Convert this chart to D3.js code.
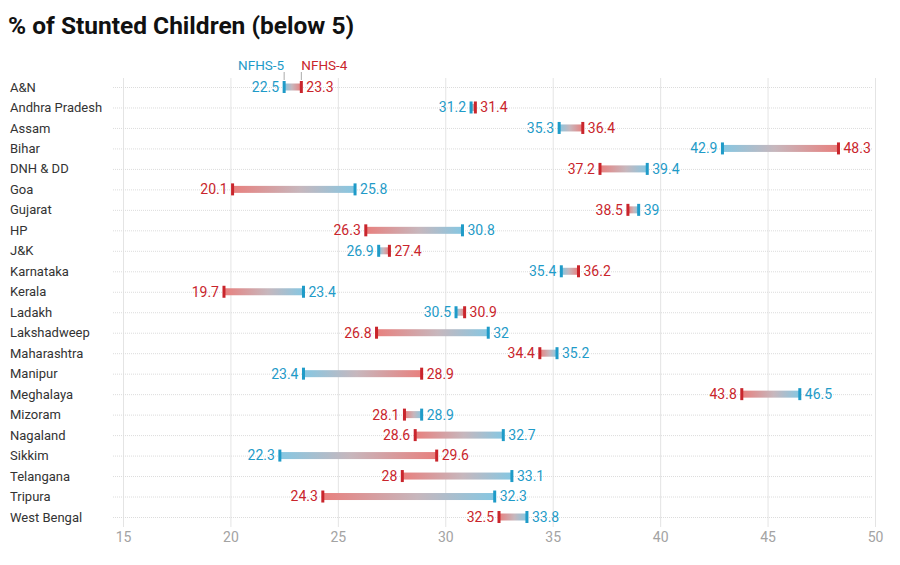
<!DOCTYPE html>
<html>
<head>
<meta charset="utf-8">
<script src="https://cdn.jsdelivr.net/npm/d3@7"></script>
<style>
  body { margin: 0; background: #fff; font-family: Roboto, "Noto Sans", sans-serif; }
</style>
</head>
<body>
<div id="chart"></div>
<script>
(function () {
  'use strict';

  var states = ['A&N', 'Andhra Pradesh', 'Assam', 'Bihar', 'DNH & DD', 'Goa', 'Gujarat', 'HP',
    'J&K', 'Karnataka', 'Kerala', 'Ladakh', 'Lakshadweep', 'Maharashtra', 'Manipur', 'Meghalaya',
    'Mizoram', 'Nagaland', 'Sikkim', 'Telangana', 'Tripura', 'West Bengal'];
  var nfhs4 = [23.3, 31.4, 36.4, 48.3, 37.2, 20.1, 38.5, 26.3, 27.4, 36.2, 19.7, 30.9, 26.8, 34.4,
    28.9, 43.8, 28.1, 28.6, 29.6, 28, 24.3, 32.5];
  var nfhs5 = [22.5, 31.2, 35.3, 42.9, 39.4, 25.8, 39, 30.8, 26.9, 35.4, 23.4, 30.5, 32, 35.2,
    23.4, 46.5, 28.9, 32.7, 22.3, 33.1, 32.3, 33.8];
  var xTicks = [15, 20, 25, 30, 35, 40, 45, 50];

  var w = 900,
      h = 565,
      red = '#c9252c',
      blue = '#1f9bc8',
      redLight = '#e8807e',
      blueLight = '#86c7e2';

  var rows = states.map(function (s, i) { return {state: s, a: nfhs4[i], b: nfhs5[i], i: i}; });

  var svg = d3.select('#chart').append('svg')
    .attr('width', w).attr('height', h);

  svg.append('text')
    .attr('x', 8).attr('y', 34)
    .style('font-size', '24.5px').style('font-weight', 700).style('fill', '#111')
    .text('% of Stunted Children (below 5)');

  var x = d3.scaleLinear().domain([15, 50]).range([123, 875]);
  var y = d3.scalePoint().domain(states).range([87, 517]);

  // vertical grid + tick labels
  var axis = svg.append('g')
    .attr('transform', 'translate(0,527)')
    .call(d3.axisBottom(x).tickValues(xTicks).tickSize(-449).tickPadding(5));
  axis.select('.domain').remove();
  axis.selectAll('line').attr('stroke', '#e4e4e4');
  axis.selectAll('text').attr('fill', '#a3a3a3').style('font-size', '14px')
    .style('font-family', 'Roboto, sans-serif');

  // dotted row lines
  svg.append('g').selectAll('line').data(rows).enter().append('line')
    .attr('x1', 113).attr('x2', 872)
    .attr('y1', function (d) { return y(d.state) + 0.5; })
    .attr('y2', function (d) { return y(d.state) + 0.5; })
    .attr('stroke', '#dcdcdc').attr('stroke-dasharray', '1,1');

  // state names
  svg.append('g').selectAll('text').data(rows).enter().append('text')
    .attr('x', 10).attr('y', function (d) { return y(d.state); })
    .attr('dy', '0.35em')
    .style('font-size', '13px').style('fill', '#333')
    .text(function (d) { return d.state; });

  // gradients per row
  var defs = svg.append('defs');
  rows.forEach(function (d) {
    var g = defs.append('linearGradient')
      .attr('id', 'grad' + d.i)
      .attr('gradientUnits', 'userSpaceOnUse')
      .attr('x1', x(d.a)).attr('x2', x(d.b)).attr('y1', 0).attr('y2', 0);
    g.append('stop').attr('offset', '0%').attr('stop-color', redLight);
    g.append('stop').attr('offset', '55%').attr('stop-color', '#c7b7bd');
    g.append('stop').attr('offset', '100%').attr('stop-color', blueLight);
  });

  var bars = svg.append('g');
  bars.selectAll('rect.bar').data(rows).enter().append('rect')
    .attr('class', 'bar')
    .attr('x', function (d) { return x(Math.min(d.a, d.b)); })
    .attr('width', function (d) { return Math.abs(x(d.a) - x(d.b)); })
    .attr('y', function (d) { return y(d.state) - 3.5; })
    .attr('height', 7)
    .attr('fill', function (d) { return 'url(#grad' + d.i + ')'; });

  // end marks
  bars.selectAll('rect.m4').data(rows).enter().append('rect')
    .attr('class', 'm4')
    .attr('x', function (d) { return x(d.a) - 1.5; })
    .attr('y', function (d) { return y(d.state) - 6; })
    .attr('width', 3).attr('height', 12).attr('fill', red);
  bars.selectAll('rect.m5').data(rows).enter().append('rect')
    .attr('class', 'm5')
    .attr('x', function (d) { return x(d.b) - 1.5; })
    .attr('y', function (d) { return y(d.state) - 6; })
    .attr('width', 3).attr('height', 12).attr('fill', blue);

  // value labels
  function labelX(v, other) { return v >= other ? x(v) + 5 : x(v) - 5; }
  function anchor(v, other) { return v >= other ? 'start' : 'end'; }
  svg.append('g').selectAll('text').data(rows).enter().append('text')
    .attr('x', function (d) { return labelX(d.a, d.b); })
    .attr('y', function (d) { return y(d.state); })
    .attr('dy', '0.35em')
    .attr('text-anchor', function (d) { return anchor(d.a, d.b); })
    .style('font-size', '14px').style('fill', red)
    .text(function (d) { return d.a; });
  svg.append('g').selectAll('text').data(rows).enter().append('text')
    .attr('x', function (d) { return labelX(d.b, d.a); })
    .attr('y', function (d) { return y(d.state); })
    .attr('dy', '0.35em')
    .attr('text-anchor', function (d) { return anchor(d.b, d.a); })
    .style('font-size', '14px').style('fill', blue)
    .text(function (d) { return d.b; });

  // legend on first row
  var first = rows[0];
  var leg = svg.append('g');
  [[first.b, 'NFHS-5', blue, 'end'], [first.a, 'NFHS-4', red, 'start']].forEach(function (l) {
    leg.append('line')
      .attr('x1', x(l[0])).attr('x2', x(l[0]))
      .attr('y1', 72).attr('y2', 80)
      .attr('stroke', '#aaa');
    leg.append('text')
      .attr('x', x(l[0]))
      .attr('y', 70)
      .attr('text-anchor', l[3])
      .style('font-size', '13.5px').style('fill', l[2])
      .text(l[1]);
  });
}());
</script>
</body>
</html>
